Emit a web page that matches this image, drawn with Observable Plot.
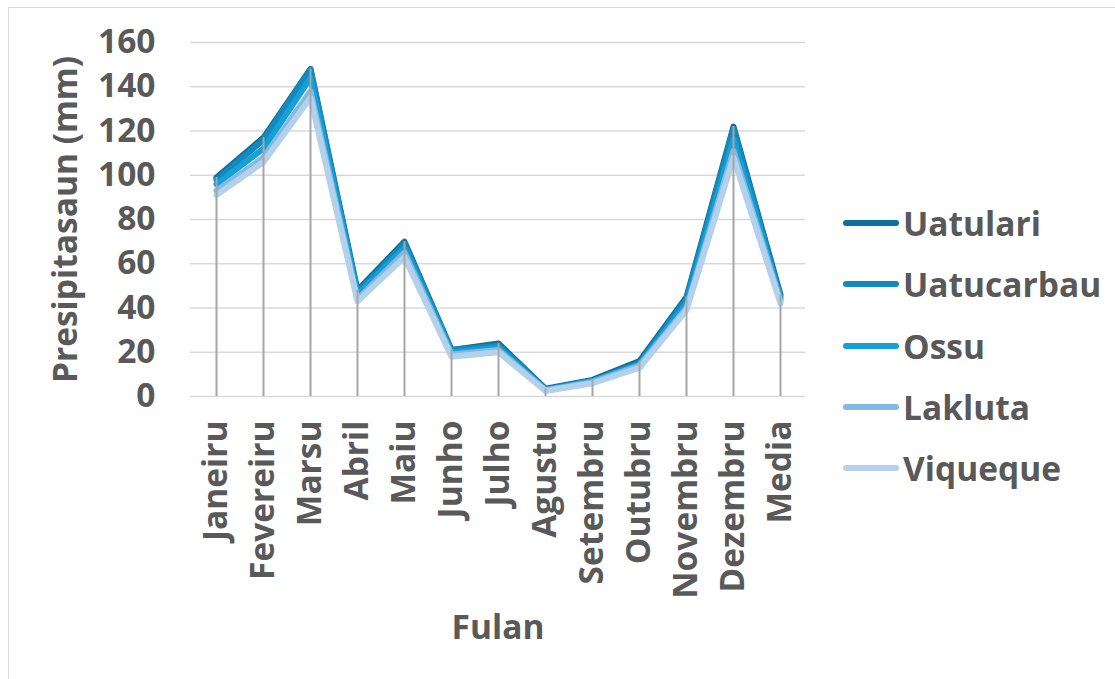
<!DOCTYPE html>
<html>
<head>
<meta charset="utf-8">
<script src="https://cdn.jsdelivr.net/npm/d3@7"></script>
<script src="https://cdn.jsdelivr.net/npm/@observablehq/plot@0.6"></script>
<style>
  html, body { margin: 0; padding: 0; background: #fff; overflow: hidden; }
  #wrap { position: relative; width: 1115px; height: 679px; overflow: hidden; font-family: "Open Sans", sans-serif; }
  #border { position: absolute; left: 8px; top: 7px; width: 1200px; height: 800px; border: 1px solid #d9d9d9; box-sizing: border-box; }
  #chart { position: absolute; left: 0; top: 0; }
  .leg { position: absolute; left: 843px; display: flex; align-items: center; height: 40px; }
  .sw { width: 56px; height: 6px; border-radius: 3px; margin-right: 4px; }
  .lt { font-size: 33.5px; font-weight: 700; color: #595959; line-height: 40px; }
</style>
</head>
<body>
<div id="wrap">
  <div id="border"></div>
  <div id="chart"></div>
</div>
<script>
const months = ["Janeiru","Fevereiru","Marsu","Abril","Maiu","Junho","Julho","Agustu","Setembru","Outubru","Novembru","Dezembru","Media"];
const seriesNames = ["Uatulari","Uatucarbau","Ossu","Lakluta","Viqueque"];
const seriesColors = ["#0f6f9b","#1489bd","#15a0d6","#84b9e1","#b4d1ec"];
const uatulari   = [99,117,148,48,70,21,24,3.5,7.5,16,45,122,46];
const uatucarbau = [98,116,148,47,69,21,23,3.2,7,15,44,121,45];
const ossu       = [96,112,144,46,67,20,22,3,7,14.5,42,116,44];
const lakluta    = [93,108,138,44,65,19,21,2.8,6.5,14,40,111,43];
const viqueque   = [91,106,135,43,63,18,20,2.5,6,13,39,108,42];
const yTicks = [0,20,40,60,80,100,120,140,160];
const yTitle = "Presipitasaun (mm)";
const xTitle = "Fulan";

const seriesValues = [uatulari, uatucarbau, ossu, lakluta, viqueque];
const data = seriesNames.flatMap((name, s) =>
  months.map((m, i) => ({ month: m, series: name, value: seriesValues[s][i] })));
const maxes = months.map((m, i) => ({ month: m, value: d3.max(seriesValues, v => v[i]) }));

const fs = 33.5;
const chart = Plot.plot({
  width: 1115,
  height: 679,
  marginLeft: 190,
  marginRight: 310,
  marginTop: 42,
  marginBottom: 283,
  style: { fontFamily: "'Open Sans', sans-serif", color: "#595959", background: "transparent", overflow: "visible" },
  x: { type: "point", domain: months, padding: 0.5 },
  y: { domain: [0, 160] },
  color: { domain: seriesNames, range: seriesColors },
  marks: [
    Plot.gridY(yTicks, { stroke: "#d9d9d9", strokeOpacity: 1, strokeWidth: 1.5 }),
    Plot.axisY(yTicks, { tickSize: 0, tickPadding: 35, fontSize: fs, fontWeight: 700, label: null }),
    Plot.axisX({ tickSize: 0, tickRotate: -90, tickPadding: 24, fontSize: fs, fontWeight: 700, label: null }),
    Plot.line(data, { x: "month", y: "value", z: "series", stroke: "series", strokeWidth: 6,
      strokeLinejoin: "round", strokeLinecap: "round" }),
    Plot.ruleX(maxes, { x: "month", y1: 0, y2: "value", stroke: "#a6a6a6", strokeWidth: 2 }),
    Plot.text([yTitle], { text: d => d, frameAnchor: "left", dx: -124, rotate: -90, textAnchor: "middle",
      fontSize: fs, fontWeight: 700, fill: "#595959", lineAnchor: "middle" }),
    Plot.text([xTitle], { text: d => d, frameAnchor: "bottom", dy: 232,
      fontSize: fs, fontWeight: 700, fill: "#595959", lineAnchor: "middle" })
  ]
});
document.getElementById("chart").appendChild(chart);

const legendY = [223, 284, 346, 407, 468];
const wrap = document.getElementById("wrap");
seriesNames.forEach((name, i) => {
  const item = document.createElement("div");
  item.className = "leg";
  item.style.top = (legendY[i] - 20) + "px";
  const sw = document.createElement("div");
  sw.className = "sw";
  sw.style.background = seriesColors[i];
  const t = document.createElement("div");
  t.className = "lt";
  t.textContent = name;
  item.appendChild(sw);
  item.appendChild(t);
  wrap.appendChild(item);
});
</script>
</body>
</html>
